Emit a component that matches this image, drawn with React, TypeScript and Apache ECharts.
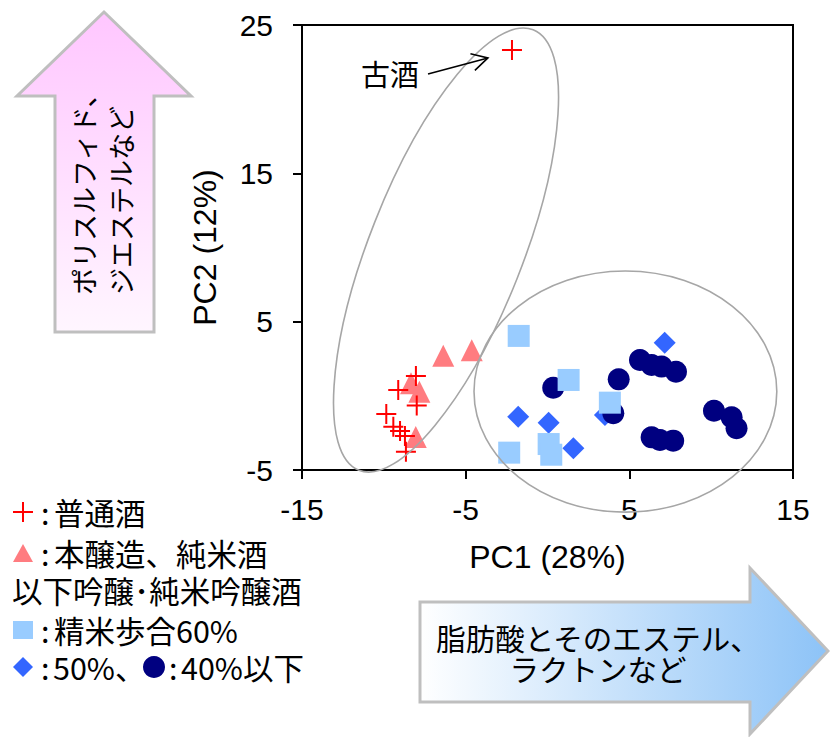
import React, { useEffect, useRef } from "react";
import * as echarts from "echarts";

// ---- Data (PC1, PC2) ----
// 普通酒 (red crosses); last point is 古酒
const futsuX = [-8.04, -9.12, -7.99, -9.85, -9.42, -9.01, -8.71, -8.65, -2.17];
const futsuY = [1.34, 0.39, -0.66, -1.22, -2.08, -2.37, -2.71, -3.77, 23.32];
// 本醸造、純米酒 (salmon triangles)
const honjozoX = [-6.37, -4.63, -8.34, -7.83, -8.05];
const honjozoY = [2.71, 3.07, 0.85, 0.28, -2.77];
// 精米歩合60% (light blue squares)
const sq60X = [-1.76, 1.29, 3.81, -2.34, 0.07, 0.23];
const sq60Y = [4.04, 1.07, -0.46, -3.83, -3.25, -3.97];
// 50% (blue diamonds)
const dia50X = [7.16, -1.79, 0.07, 1.58, 3.51];
const dia50Y = [3.58, -1.41, -1.81, -3.54, -1.29];
// 40%以下 (navy circles)
const cir40X = [0.35, 4.35, 5.65, 6.36, 6.97, 7.85, 4.02, 6.36, 6.87, 7.68, 10.17, 11.25, 11.55];
const cir40Y = [0.55, 1.11, 2.42, 2.08, 1.97, 1.63, -1.18, -2.8, -2.98, -3.02, -1.0, -1.45, -2.19];

// axes
const xTickValues = [-15, -5, 5, 15];
const yTickValues = [-5, 5, 15, 25];
const xName = "PC1 (28%)";
const yName = "PC2 (12%)";

// texts
const legendLabels = ["普通酒", "本醸造、純米酒", "以下吟醸･純米吟醸酒", "精米歩合60%", "50%、", "40%以下"];
const upArrowLines = ["ポリスルフィド、", "ジエステルなど"];
const rightArrowLines = ["脂肪酸とそのエステル、", "ラクトンなど"];
const oldSakeLabel = "古酒";

const zip = (xs: number[], ys: number[]) => xs.map((x, i) => [x, ys[i]]);

const CROSS_PATH = "path://M9,0H11V9H20V11H11V20H9V11H0V9H9Z";
const CJK = '"Noto Sans CJK JP", sans-serif';
const LAT = '"Liberation Sans", Arial, sans-serif';

// grouping ellipses: centre in data units, radii in data units (x-unit, y-unit), rotation deg
const ellipses = [
  { cx: -6.2, cy: 9.83, rx: 14.47, ry: 5.16, rot: 68.4 },
  { cx: 4.76, cy: 0.29, rx: 9.25, ry: 8.13, rot: 0 },
];
const oldSakeArrow = { from: [-7.3, 21.7], to: [-3.64, 22.78], text: [-9.62, 21.77] };

export default function App() {
  const ref = useRef<HTMLDivElement>(null);
  useEffect(() => {
    const chart = echarts.init(ref.current!, null, { renderer: "svg" });
    const txt = (text: string, x: number, y: number, size: number, extra: any = {}) => ({
      type: "text",
      x,
      y,
      silent: true,
      ...extra,
      style: {
        text,
        fill: "#000",
        font: `${size}px ${CJK}`,
        lineHeight: size,
        align: "left",
        verticalAlign: "middle",
        ...(extra.style || {}),
      },
    });
    const LG = 30.5;
    const option: any = {
      animation: false,
      backgroundColor: "#fff",
      textStyle: { fontFamily: LAT },
      grid: {
        left: 302,
        top: 25,
        width: 491,
        height: 445,
        show: true,
        borderColor: "#000",
        borderWidth: 2,
        backgroundColor: "transparent",
      },
      xAxis: {
        type: "value",
        min: xTickValues[0],
        max: xTickValues[xTickValues.length - 1],
        interval: 10,
        name: xName,
        nameLocation: "middle",
        nameGap: 71,
        nameTextStyle: { fontSize: 32, color: "#000", fontFamily: LAT },
        axisLine: { show: true, onZero: false, lineStyle: { color: "#000", width: 2 } },
        axisTick: { show: true, length: 9, lineStyle: { color: "#000", width: 2 } },
        axisLabel: { fontSize: 30, color: "#000", margin: 24, fontFamily: LAT },
        splitLine: { show: false },
      },
      yAxis: {
        type: "value",
        min: yTickValues[0],
        max: yTickValues[yTickValues.length - 1],
        interval: 10,
        name: yName,
        nameLocation: "middle",
        nameRotate: 90,
        nameGap: 81,
        nameTextStyle: { fontSize: 32, color: "#000", fontFamily: LAT },
        axisLine: { show: true, onZero: false, lineStyle: { color: "#000", width: 2 } },
        axisTick: { show: true, length: 9, lineStyle: { color: "#000", width: 2 } },
        axisLabel: { fontSize: 30, color: "#000", margin: 29, fontFamily: LAT },
        splitLine: { show: false },
      },
      series: [
        {
          name: "本醸造、純米酒",
          type: "scatter",
          symbol: "triangle",
          symbolSize: 22,
          itemStyle: { color: "#FF7C80", opacity: 1 },
          data: zip(honjozoX, honjozoY),
        },
        {
          name: "普通酒",
          type: "scatter",
          symbol: CROSS_PATH,
          symbolSize: 20,
          itemStyle: { color: "#FF0000", opacity: 1 },
          data: zip(futsuX, futsuY),
        },
        {
          name: "50%",
          type: "scatter",
          symbol: "diamond",
          symbolSize: 22,
          itemStyle: { color: "#3366FF", opacity: 1 },
          data: zip(dia50X, dia50Y),
        },
        {
          name: "40%以下",
          type: "scatter",
          symbol: "circle",
          symbolSize: 22,
          itemStyle: { color: "#000080", opacity: 1 },
          data: zip(cir40X, cir40Y),
        },
        {
          name: "精米歩合60%",
          type: "scatter",
          symbol: "rect",
          symbolSize: 22,
          itemStyle: { color: "#99CCFF", opacity: 1 },
          data: zip(sq60X, sq60Y),
        },
        {
          type: "custom",
          coordinateSystem: "cartesian2d",
          clip: false,
          silent: true,
          z: 3,
          data: ellipses.map((e) => [e.cx, e.cy]),
          encode: { x: 0, y: 1 },
          renderItem: (params: any, api: any) => {
            const e = ellipses[params.dataIndex];
            const c = api.coord([e.cx, e.cy]);
            const u = api.size([1, 1]);
            return {
              type: "ellipse",
              x: c[0],
              y: c[1],
              rotation: (e.rot * Math.PI) / 180,
              shape: { cx: 0, cy: 0, rx: e.rx * u[0], ry: e.ry * u[1] },
              style: { fill: "none", stroke: "#A6A6A6", lineWidth: 1.6 },
            };
          },
        },
        {
          type: "custom",
          coordinateSystem: "cartesian2d",
          clip: false,
          silent: true,
          z: 4,
          data: [oldSakeArrow.to],
          encode: { x: 0, y: 1 },
          renderItem: (params: any, api: any) => {
            const a = api.coord(oldSakeArrow.from);
            const b = api.coord(oldSakeArrow.to);
            const t = api.coord(oldSakeArrow.text);
            const ang = Math.atan2(b[1] - a[1], b[0] - a[0]);
            const hl = 18;
            const sp = 0.5;
            const h1 = [b[0] - hl * Math.cos(ang - sp), b[1] - hl * Math.sin(ang - sp)];
            const h2 = [b[0] - hl * Math.cos(ang + sp), b[1] - hl * Math.sin(ang + sp)];
            return {
              type: "group",
              children: [
                {
                  type: "line",
                  shape: { x1: a[0], y1: a[1], x2: b[0], y2: b[1] },
                  style: { stroke: "#000", lineWidth: 1.6 },
                },
                {
                  type: "polyline",
                  shape: { points: [h1, b, h2] },
                  style: { stroke: "#000", lineWidth: 1.6, fill: "none" },
                },
                {
                  type: "text",
                  x: t[0],
                  y: t[1],
                  style: {
                    text: oldSakeLabel,
                    font: `29px ${CJK}`,
                    fill: "#000",
                    align: "center",
                    verticalAlign: "middle",
                  },
                },
              ],
            };
          },
        },
      ],
      graphic: [
        // up arrow
        {
          type: "polygon",
          silent: true,
          shape: {
            points: [
              [104, 12],
              [191, 96],
              [154, 96],
              [154, 332],
              [55, 332],
              [55, 96],
              [17, 96],
            ],
          },
          style: {
            fill: new echarts.graphic.LinearGradient(0, 0, 0, 1, [
              { offset: 0, color: "#FFC6FF" },
              { offset: 1, color: "#FFF6FF" },
            ]),
            stroke: "#BFBFBF",
            lineWidth: 3,
          },
        },
        txt(upArrowLines[0], 83, 295, 27, { rotation: Math.PI / 2 }),
        txt(upArrowLines[1], 120, 295, 27, { rotation: Math.PI / 2 }),
        // right arrow
        {
          type: "polygon",
          silent: true,
          shape: {
            points: [
              [420, 602],
              [750, 602],
              [750, 568],
              [828, 651],
              [750, 734],
              [750, 702],
              [420, 702],
            ],
          },
          style: {
            fill: new echarts.graphic.LinearGradient(0, 0, 1, 0, [
              { offset: 0, color: "#FFFFFF" },
              { offset: 1, color: "#8DC3F7" },
            ]),
            stroke: "#BFBFBF",
            lineWidth: 3,
          },
        },
        txt(rightArrowLines[0], 598, 637, 29.5, { style: { align: "center" } }),
        txt(rightArrowLines[1], 598, 668, 29.5, { style: { align: "center" } }),
        // legend
        {
          type: "polygon",
          silent: true,
          shape: {
            points: [
              [22, 502], [24, 502], [24, 511], [33, 511], [33, 513], [24, 513],
              [24, 522], [22, 522], [22, 513], [13, 513], [13, 511], [22, 511],
            ],
          },
          style: { fill: "#FF0000" },
        },
        txt(":", 41, 512, LG),
        txt(legendLabels[0], 54, 512, LG),
        {
          type: "polygon",
          silent: true,
          shape: { points: [[23, 544], [33, 562], [13, 562]] },
          style: { fill: "#FF7C80" },
        },
        txt(":", 41, 553, LG),
        txt(legendLabels[1], 54, 553, LG),
        txt(legendLabels[2], 12, 590, LG),
        {
          type: "rect",
          silent: true,
          shape: { x: 13, y: 621, width: 20, height: 18 },
          style: { fill: "#99CCFF" },
        },
        txt(":", 41, 630, LG),
        txt(legendLabels[3], 54, 630, LG),
        {
          type: "polygon",
          silent: true,
          shape: { points: [[23, 657], [33, 667], [23, 677], [13, 667]] },
          style: { fill: "#3366FF" },
        },
        txt(":", 41, 667, LG),
        txt(legendLabels[4], 53, 667, LG),
        {
          type: "circle",
          silent: true,
          shape: { cx: 154, cy: 667, r: 11 },
          style: { fill: "#000080" },
        },
        txt(":", 169, 667, LG),
        txt(legendLabels[5], 181, 667, LG),
      ],
    };
    chart.setOption(option);
    return () => chart.dispose();
  }, []);
  return (
    <div
      ref={ref}
      style={{ position: "absolute", left: 0, top: 0, width: 830, height: 737, background: "#fff" }}
    />
  );
}
